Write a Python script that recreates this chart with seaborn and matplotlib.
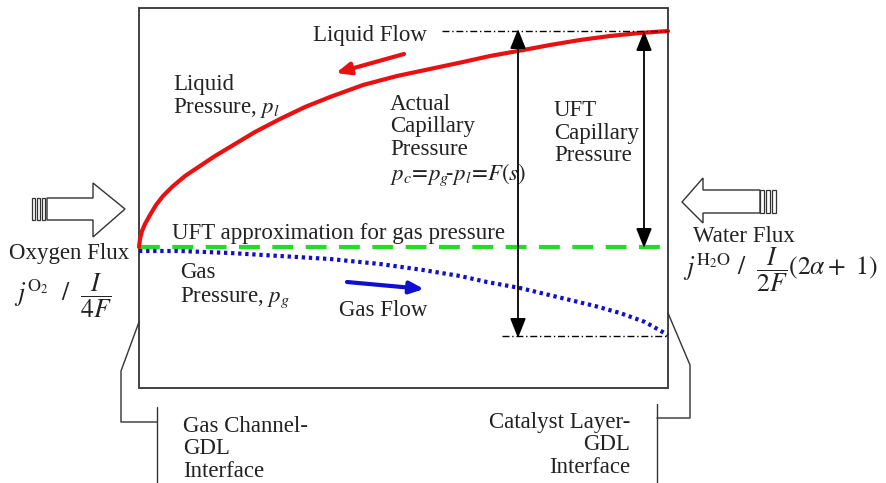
import numpy as np
import pandas as pd
import seaborn as sns
import matplotlib.pyplot as plt
from matplotlib.patches import Rectangle, Polygon

# pressure profiles across the GDL (pixel coords)
liquid_x = [139, 140, 142, 145, 150, 156, 163, 172, 185, 200, 215, 230, 255, 280, 305, 330,
            363, 397, 430, 463, 490, 518, 550, 580, 610, 640, 668]
liquid_y = [247, 239, 231, 224, 215, 205, 196, 187, 176, 166, 156, 147, 132, 119, 107, 97,
            85, 76, 69, 62, 56, 51, 45, 40, 36, 33, 31]
gas_x = [139, 180, 230, 280, 330, 380, 423, 460, 487, 520, 545, 570, 595, 620, 645, 668]
gas_y = [251, 251, 253, 256, 259, 264, 270, 276, 282, 288, 294, 300, 306, 313, 322, 335]
uft_x = [139, 668]
uft_y = [247, 247]

sns.set_theme(style="white")
plt.rcParams['font.family'] = ['Liberation Serif', 'DejaVu Serif']
plt.rcParams['mathtext.fontset'] = 'stix'

fig = plt.figure(figsize=(8.87, 4.83), dpi=100)
ax = fig.add_axes([0, 0, 1, 1])
ax.set_xlim(0, 887)
ax.set_ylim(483, 0)
ax.axis('off')

# domain box
ax.add_patch(Rectangle((139, 8), 529, 380, fill=False, ec='#333333', lw=1.3))

liq = pd.DataFrame({'x': liquid_x, 'y': liquid_y})
gas = pd.DataFrame({'x': gas_x, 'y': gas_y})
uft = pd.DataFrame({'x': uft_x, 'y': uft_y})
sns.lineplot(data=uft, x='x', y='y', ax=ax, color='#22dd22', lw=3, sort=False,
             estimator=None, linestyle=(0, (5, 3)))
sns.lineplot(data=gas, x='x', y='y', ax=ax, color='#1010cc', lw=3, sort=False,
             estimator=None, linestyle=(0, (0.8, 0.9)))
sns.lineplot(data=liq, x='x', y='y', ax=ax, color='#e81010', lw=3, sort=False,
             estimator=None)

# dash-dot reference levels
ax.plot([442, 668], [31, 31], color='black', lw=1, linestyle=(0, (5, 2, 1, 2)))
ax.plot([502, 668], [336, 336], color='black', lw=1, linestyle=(0, (5, 2, 1, 2)))

# capillary pressure arrows
astyle = '<|-|>,head_length=1.0,head_width=0.4'
ax.annotate('', xy=(518, 29), xytext=(518, 338),
            arrowprops=dict(arrowstyle=astyle, color='black', lw=1.3, shrinkA=0, shrinkB=0))
ax.annotate('', xy=(644, 31), xytext=(644, 248),
            arrowprops=dict(arrowstyle=astyle, color='black', lw=1.3, shrinkA=0, shrinkB=0))

# flow arrows
ax.annotate('', xy=(336, 73), xytext=(404, 54),
            arrowprops=dict(arrowstyle='-|>,head_length=0.7,head_width=0.3',
                            color='#e81010', lw=3, shrinkA=0, shrinkB=0))
ax.annotate('', xy=(424, 289), xytext=(347, 282),
            arrowprops=dict(arrowstyle='-|>,head_length=0.7,head_width=0.3',
                            color='#1010cc', lw=3, shrinkA=0, shrinkB=0))

# block arrows for fluxes
ax.add_patch(Polygon([(47, 198), (93, 198), (93, 183), (125, 209), (93, 237),
                      (93, 220), (47, 220)], closed=True, fc='white', ec='#333333', lw=1))
for x0 in (32, 37, 42):
    ax.add_patch(Rectangle((x0, 198), 3, 22, fc='white', ec='#333333', lw=0.9))
ax.add_patch(Polygon([(760, 190), (703, 190), (703, 178), (682, 202), (703, 223),
                      (703, 213), (760, 213)], closed=True, fc='white', ec='#333333', lw=1))
for x0 in (760, 766, 772):
    ax.add_patch(Rectangle((x0, 190), 4, 23, fc='white', ec='#333333', lw=0.9))

# interface brackets
ax.plot([139, 121, 121, 157], [322, 371, 422, 422], color='#333333', lw=1)
ax.plot([157, 157], [407, 483], color='#333333', lw=1)
ax.plot([668, 690, 690, 657], [313, 365, 418, 418], color='#333333', lw=1)
ax.plot([657, 657], [404, 483], color='#333333', lw=1)

fs = 16.5
ls = 1.1
kw = dict(fontsize=fs, color='#222222')
ax.text(370, 35, 'Liquid Flow', ha='center', va='center', **kw)
ax.text(173, 97, 'Liquid\nPressure, $p_l$', ha='left', va='center', linespacing=ls, **kw)
ax.text(390, 141, 'Actual\nCapillary\nPressure\n$p_c\\!=\\!p_g\\!\\text{-}p_l\\!=\\!F(s)$',
        ha='left', va='center', linespacing=ls, **kw)
ax.text(554, 133, 'UFT\nCapillary\nPressure', ha='left', va='center', linespacing=ls, **kw)
ax.text(172, 233, 'UFT approximation for gas pressure', ha='left', va='center', **kw)
ax.text(180, 286, 'Gas\nPressure, $p_g$', ha='left', va='center', linespacing=ls, **kw)
ax.text(383, 311, 'Gas Flow', ha='center', va='center', **kw)
ax.text(69, 254, 'Oxygen Flux', ha='center', va='center', **kw)
ax.text(14, 296, r'$j^{\mathrm{O_2}}\ \ /\ \ \dfrac{I}{4F}$', ha='left', va='center',
        fontsize=18.5, color='#222222')
ax.text(693, 237, 'Water Flux', ha='left', va='center', **kw)
ax.text(683, 270, r'$j^{\mathrm{H_2O}}\ /\ \ \dfrac{I}{2F}(2\alpha +\ 1)$', ha='left',
        va='center', fontsize=18.5, color='#222222')
ax.text(183, 449, 'Gas Channel-\nGDL\nInterface', ha='left', va='center', linespacing=ls, **kw)
ax.text(630, 445, 'Catalyst Layer-\nGDL\nInterface', ha='right', va='center', linespacing=ls,
        multialignment='right', **kw)

fig.savefig('out.png', dpi=100)
